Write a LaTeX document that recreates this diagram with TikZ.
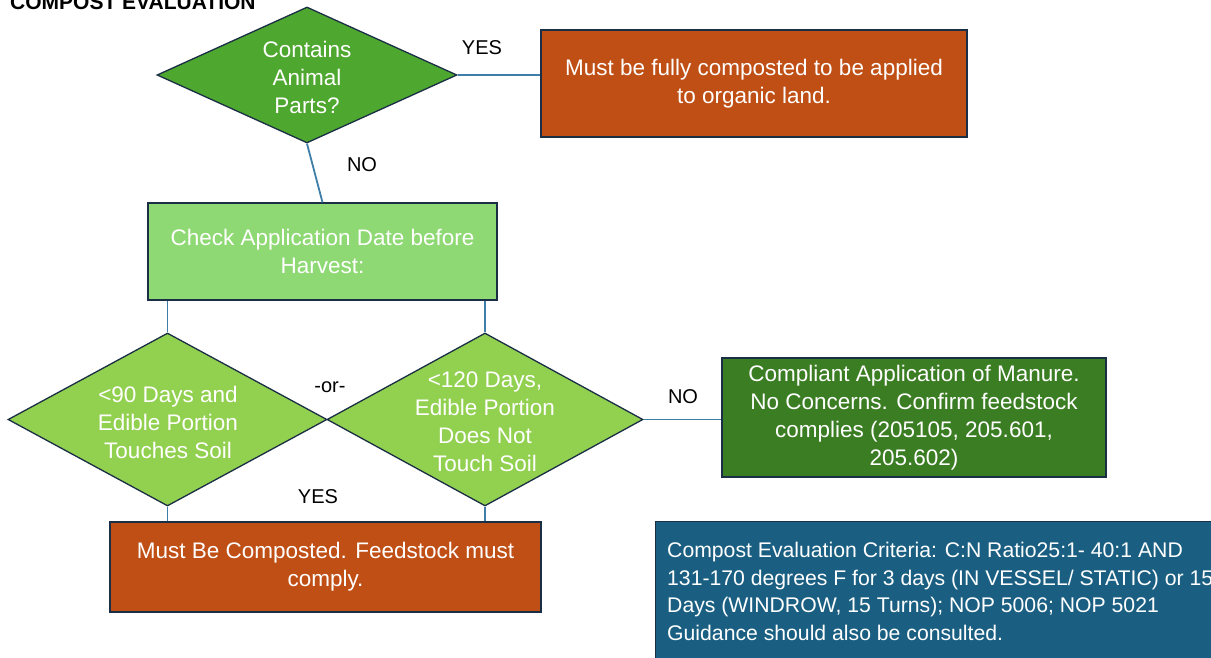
\documentclass[tikz,border=0pt]{standalone}
\usepackage{fontspec}
\setmainfont{Liberation Sans}
\usetikzlibrary{shapes.geometric}
\definecolor{bordc}{HTML}{1A2E45}
\definecolor{linec}{HTML}{3F7EA8}
\definecolor{greenA}{HTML}{4EA72E}
\definecolor{greenL}{HTML}{8ED973}
\definecolor{greenD}{HTML}{92D050}
\definecolor{greenK}{HTML}{3B7D23}
\definecolor{orangec}{HTML}{C04F15}
\definecolor{bluec}{HTML}{1A5F82}
\tikzset{
  box/.style={draw=bordc, line width=1.3pt, inner sep=0pt, text=white, align=center,
    font=\fontsize{22.5}{28}\selectfont},
  dia/.style={diamond, draw=bordc, line width=1.3pt, inner sep=0pt},
  dtext/.style={inner sep=0pt, text=white, align=center, font=\fontsize{22.5}{28}\selectfont},
  lbl/.style={inner sep=0pt, text=black, font=\fontsize{20}{24}\selectfont},
  conn/.style={draw=linec, line width=1.8pt}
}
\begin{document}
\begin{tikzpicture}[x=1pt,y=-1pt]
\useasboundingbox (0,0) rectangle (1211,658);
\fill[white] (0,0) rectangle (1211,658);

\node[inner sep=0pt, anchor=base west, font=\fontsize{21}{24}\selectfont\bfseries] (title) at (10,10) {COMPOST EVALUATION};

% shapes
\node[dia, fill=greenA, minimum width=300pt, minimum height=136pt] (d1) at (307,75) {};
\node[dtext] (t1) at (307,77) {Contains\\Animal\\Parts?};

\node[box, fill=orangec, minimum width=426pt, minimum height=107pt] (b1) at (754,83.5)
  {Must be fully composted to be applied\\to organic land.};

\node[box, fill=greenL, minimum width=349pt, minimum height=97pt] (b2) at (322.5,251.5)
  {Check Application Date before\\Harvest:};

\node[dia, fill=greenD, minimum width=319pt, minimum height=173pt] (d2) at (167.5,419.5) {};
\node[dtext] (t2) at (168,422) {<90 Days and\\Edible Portion\\Touches Soil};

\node[dia, fill=greenD, minimum width=316pt, minimum height=173pt] (d3) at (485,419.5) {};
\node[dtext] (t3) at (485,421.5) {<120 Days,\\Edible Portion\\Does Not\\Touch Soil};

\node[box, fill=greenK, minimum width=384pt, minimum height=119pt] (b3) at (914,417.5)
  {Compliant Application of Manure.\\No Concerns. Confirm feedstock\\complies (205105, 205.601,\\205.602)};

\node[box, fill=orangec, minimum width=431pt, minimum height=90pt] (b4) at (325.5,567)
  {Must Be Composted. Feedstock must\\comply.};

\node[draw=bordc, line width=1.3pt, fill=bluec, anchor=north west, minimum width=580pt, minimum height=160pt, inner sep=0pt] (b5) at (655,521) {};
\node[inner sep=0pt, anchor=north west, text=white, align=left, font=\fontsize{21.2}{27.6}\selectfont] (t5) at (667,542)
  {Compost Evaluation Criteria: C:N Ratio25:1- 40:1 AND\\131-170 degrees F for 3 days (IN VESSEL/ STATIC) or 15\\Days (WINDROW, 15 Turns); NOP 5006; NOP 5021\\Guidance should also be consulted.};

% connectors
\draw[conn] (d1.east) -- (d1.east -| b1.west);
\draw[conn] (d1.south) -- (b2.north);
\draw[conn] (d2.north) -- (d2.north |- b2.south);
\draw[conn] (d3.north) -- (d3.north |- b2.south);
\draw[conn] (d3.east) -- (d3.east -| b3.west);
\draw[conn] (d2.south) -- (d2.south |- b4.north);
\draw[conn] (d3.south) -- (d3.south |- b4.north);

% labels
\node[lbl] (yes1) at (482,48) {YES};
\node[lbl] (no1) at (362,165) {NO};
\node[lbl] (or) at (330,387) {-or-};
\node[lbl] (no2) at (683,397) {NO};
\node[lbl] (yes2) at (318,497) {YES};
\end{tikzpicture}
\end{document}
